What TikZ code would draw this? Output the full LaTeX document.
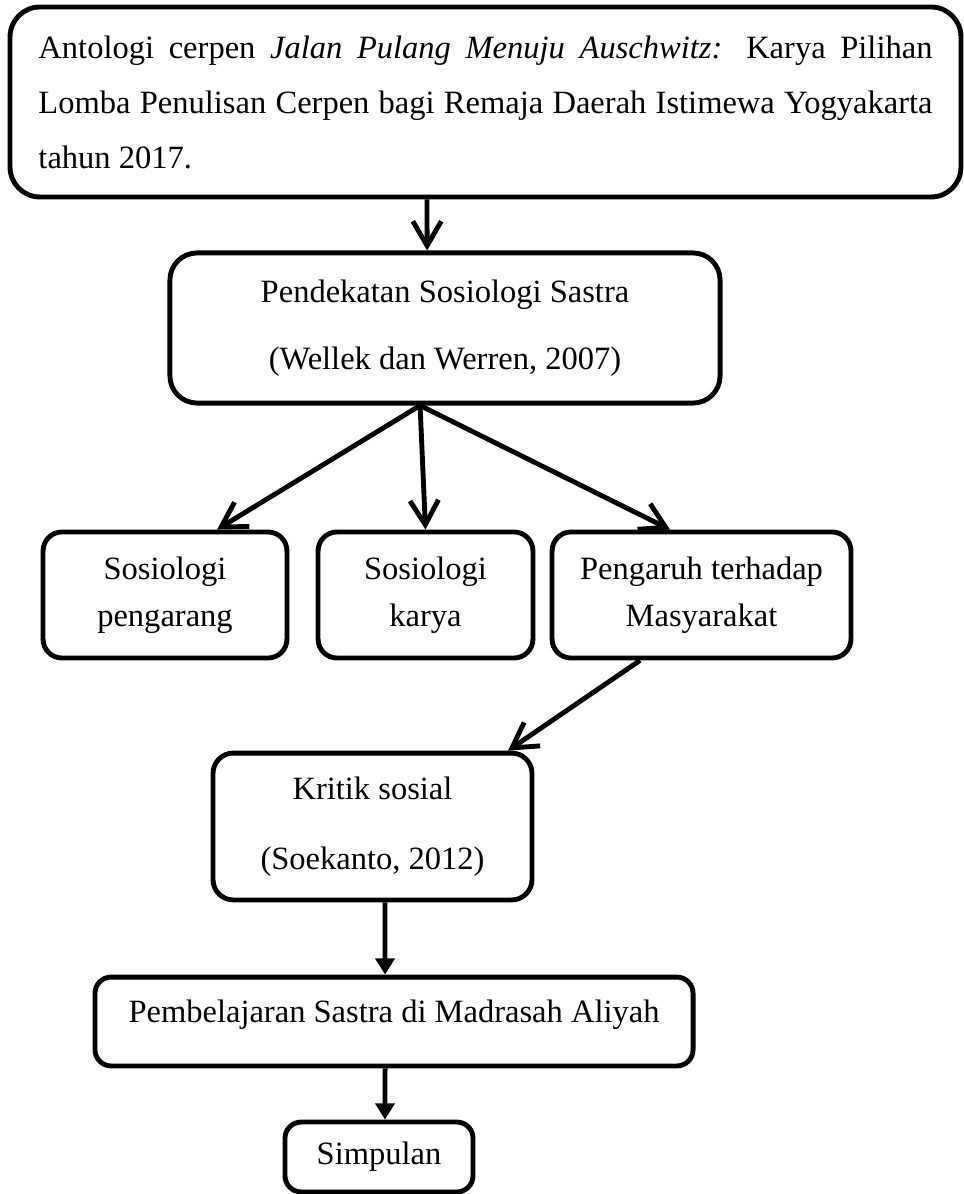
\documentclass[tikz,border=0pt]{standalone}
\usepackage{fontspec}
\setmainfont{Liberation Serif}
\usetikzlibrary{arrows.meta}

\tikzset{
  box/.style={draw, line width=1.8pt, inner sep=0pt, align=center,
    font=\fontsize{12pt}{17.3pt}\selectfont},
  barb/.style={line width=1.8pt, -{Straight Barb[length=9pt,width=10.5pt]}},
  fillarrow/.style={line width=1.8pt, -{Triangle[length=6pt,width=7pt]}}
}

\begin{document}
\begin{tikzpicture}[x=0.369pt,y=-0.369pt]
    \useasboundingbox (0,0) rectangle (963,1194);

    % draw top box
    \node[box, rounded corners=11pt, minimum width=350.9pt, minimum height=70.1pt,
      text width=329.9pt, align=justify, font=\fontsize{12pt}{20.3pt}\selectfont]
      (antologi) at (485.5,102) {Antologi cerpen \textit{Jalan Pulang Menuju Auschwitz:} Karya Pilihan Lomba Penulisan Cerpen bagi Remaja Daerah Istimewa Yogyakarta tahun 2017.};

    % draw approach box
    \node[box, rounded corners=10pt, minimum width=203pt, minimum height=55.4pt,
      font=\fontsize{12pt}{24.7pt}\selectfont]
      (pend) at (445,328) {Pendekatan Sosiologi Sastra\\(Wellek dan Werren, 2007)};

    % draw middle boxes
    \node[box, rounded corners=7pt, minimum width=90pt, minimum height=46.5pt]
      (sp) at (165,595) {Sosiologi\\pengarang};
    \node[box, rounded corners=7pt, minimum width=79.3pt, minimum height=46.5pt]
      (sk) at (425.5,595) {Sosiologi\\karya};
    \node[box, rounded corners=7pt, minimum width=110.3pt, minimum height=46.5pt]
      (spm) at (701.5,595) {Pengaruh terhadap\\Masyarakat};

    % draw lower boxes
    \node[box, rounded corners=7.5pt, minimum width=117.7pt, minimum height=54.2pt,
      font=\fontsize{12pt}{25.8pt}\selectfont]
      (kritik) at (372.5,826.5) {Kritik sosial\\(Soekanto, 2012)};
    \node[box, rounded corners=6pt, minimum width=220.7pt, minimum height=32.8pt,
      text height=8.2pt, text depth=7.8pt]
      (pemb) at (394,1021.5) {Pembelajaran Sastra di Madrasah Aliyah};
    \node[box, rounded corners=6pt, minimum width=69.4pt, minimum height=25.8pt]
      (simp) at (379,1157) {Simpulan};

    % draw arrows
    \draw[barb] ([xshift=-21.6pt]antologi.south) -- ([xshift=-6.6pt]pend.north);
    \coordinate (fan) at ([xshift=-9.2pt]pend.south);
    \draw[barb] (fan) -- ([xshift=19.2pt]sp.north);
    \draw[barb] (fan) -- (sk.north);
    \draw[barb] (fan) -- ([xshift=-11.6pt]spm.north);
    \draw[barb] ([xshift=-22.7pt]spm.south) -- ([xshift=50pt]kritik.north);
    \draw[fillarrow] ([xshift=4.6pt]kritik.south) -- ([xshift=-3.3pt]pemb.north);
    \draw[fillarrow] ([xshift=-3.3pt]pemb.south) -- ([xshift=2.2pt]simp.north);

\end{tikzpicture}
\end{document}
